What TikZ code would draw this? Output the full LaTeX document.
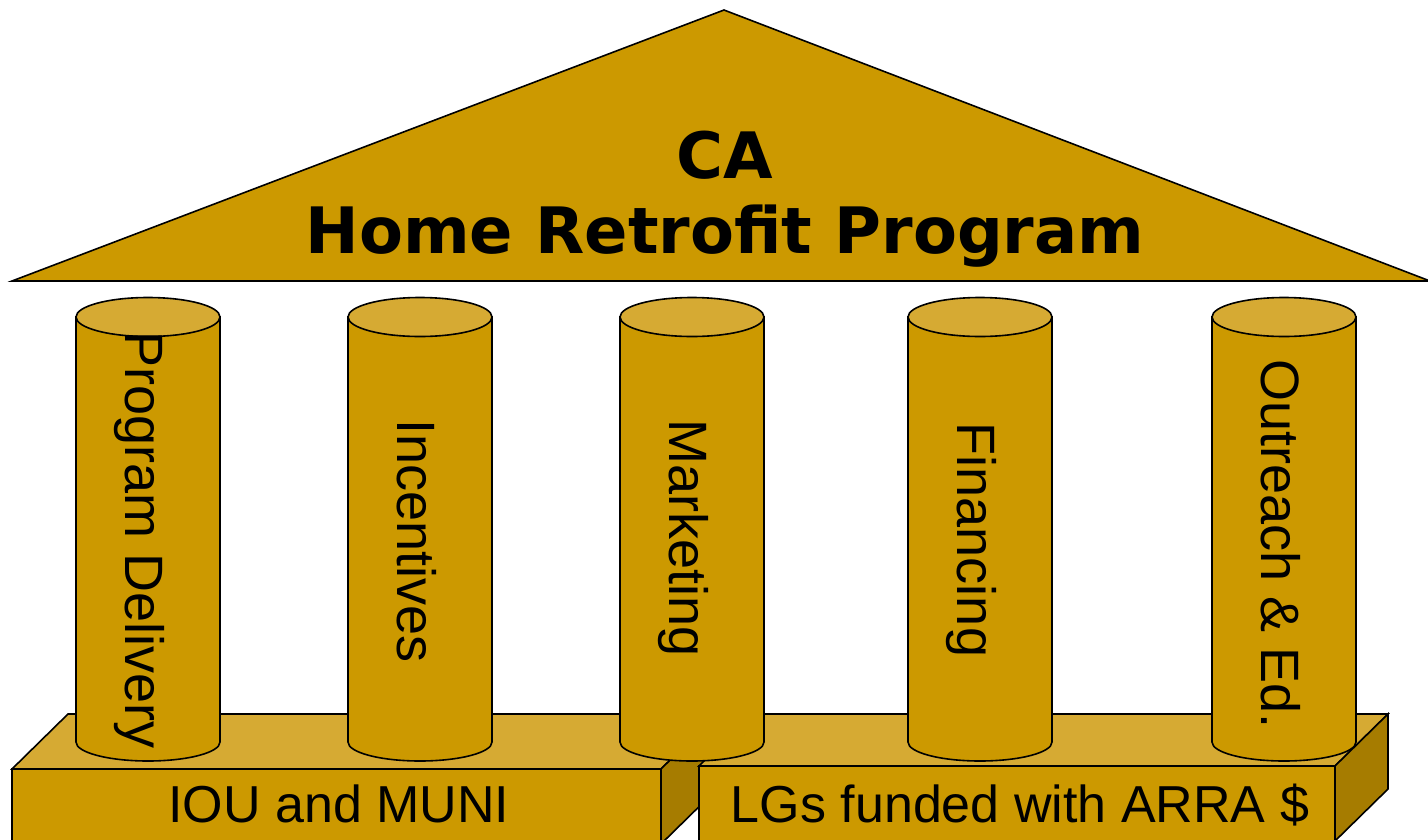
\documentclass[tikz,border=0pt]{standalone}
\usepackage{fontspec}
\setmainfont{Liberation Sans}
\newfontfamily\titlefont{DejaVu Sans}
\definecolor{gold}{HTML}{CC9900}
\definecolor{goldlight}{HTML}{D6AA33}
\definecolor{golddark}{HTML}{A67C00}
\tikzset{
  edge/.style={draw=black, line width=1.6pt, line join=miter},
  titletext/.style={font=\titlefont\bfseries\fontsize{64}{70}\selectfont, anchor=base, inner sep=0pt},
  coltext/.style={font=\fontsize{54}{60}\selectfont, anchor=base, rotate=-90, inner sep=0pt},
  basetext/.style={font=\fontsize{52}{60}\selectfont, anchor=base, inner sep=0pt},
}
\newcommand{\pillar}[1]{%
  \draw[edge, fill=gold] (#1-72,-317) -- (#1-72,-742)
     arc[start angle=180, end angle=360, x radius=72pt, y radius=19pt]
     -- (#1+72,-317) -- cycle;
  \draw[edge, fill=goldlight] (#1,-317) ellipse[x radius=72pt, y radius=19.5pt];
}
\begin{document}
\begin{tikzpicture}[x=1pt, y=1pt]
\useasboundingbox (0,0) rectangle (1428,-839);
% roof
\draw[edge, fill=gold] (12,-281) -- (724,-10) -- (1430,-281) -- cycle;
\node[titletext] (ca) at (725,-178) {CA};
\node[titletext] (title) at (725,-253) {Home Retrofit Program};
% left base box
\draw[edge, fill=goldlight] (12,-769) -- (68,-714) -- (717,-714) -- (661,-769) -- cycle;
\draw[edge, fill=golddark] (661,-769) -- (717,-714) -- (717,-789) -- (661,-844) -- cycle;
\draw[edge, fill=gold] (12,-769) rectangle (661,-846);
\node[basetext] (iou) at (339,-822) {IOU and MUNI};
% right base box
\draw[edge, fill=goldlight] (699,-766) -- (752,-714) -- (1388,-714) -- (1335,-766) -- cycle;
\draw[edge, fill=golddark] (1335,-766) -- (1388,-714) -- (1388,-789) -- (1335,-841) -- cycle;
\draw[edge, fill=gold] (699,-766) rectangle (1335,-846);
\node[basetext] (lgs) at (1020,-822) {LGs funded with ARRA \$};
% pillars
\pillar{148}
\pillar{420}
\pillar{692}
\pillar{980}
\pillar{1284}
\node[coltext] (delivery) at (125,-540) {Program Delivery};
\node[coltext] (incentives) at (397,-541) {Incentives};
\node[coltext] (marketing) at (669,-538) {Marketing};
\node[coltext] (financing) at (957,-540) {Financing};
\node[coltext] (outreach) at (1261,-544) {Outreach \& Ed.};
\end{tikzpicture}
\end{document}
